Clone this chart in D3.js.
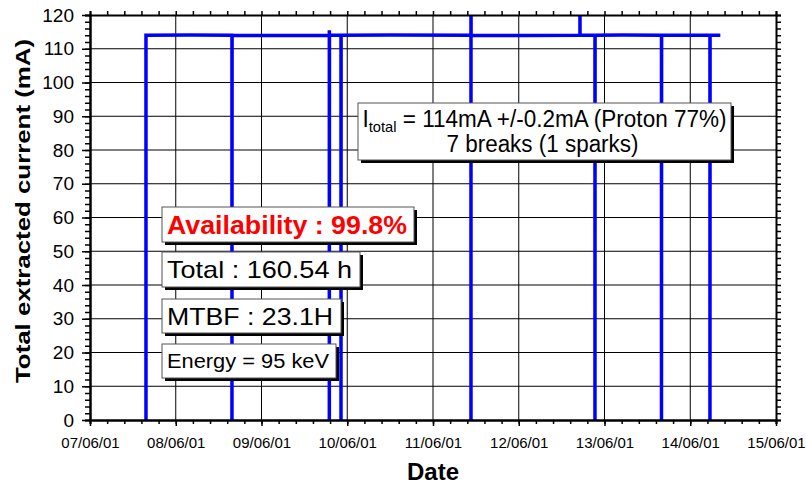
<!DOCTYPE html>
<html>
<head>
<meta charset="utf-8">
<script src="https://cdn.jsdelivr.net/npm/d3@7"></script>
<style>
  body { margin: 0; background: #fff; }
  text { font-family: Arial, "Liberation Sans", sans-serif; }
</style>
</head>
<body>
<svg id="chart" width="806" height="488"></svg>
<script>
const parse = d3.timeParse("%d/%m/%y %H:%M");

// axis labels
const dayLabels = ["07/06/01", "08/06/01", "09/06/01", "10/06/01", "11/06/01",
                   "12/06/01", "13/06/01", "14/06/01", "15/06/01"];
const yTicks = [0, 10, 20, 30, 40, 50, 60, 70, 80, 90, 100, 110, 120];

// extracted current trace (date, mA)
const traceTimes = [
  "07/06/01 15:40", "07/06/01 15:40", "08/06/01 04:00", "08/06/01 15:44", "08/06/01 15:44", "08/06/01 15:46",
  "09/06/01 03:00", "09/06/01 18:59", "09/06/01 18:59", "09/06/01 18:59", "09/06/01 19:01",
  "09/06/01 22:15", "09/06/01 22:15", "09/06/01 22:17",
  "10/06/01 12:00", "11/06/01 10:38", "11/06/01 10:38", "11/06/01 10:38", "11/06/01 10:40",
  "12/06/01 02:00", "12/06/01 17:08", "12/06/01 17:08", "12/06/01 17:09",
  "12/06/01 21:20", "12/06/01 21:20", "12/06/01 21:22",
  "13/06/01 05:00", "13/06/01 15:57", "13/06/01 15:57", "13/06/01 15:59",
  "14/06/01 05:31", "14/06/01 05:31", "14/06/01 05:33", "14/06/01 08:25"
];
const traceValues = [
  0, 114, 114.1, 114, 0, 114,
  113.9, 114, 115.5, 0, 114,
  114, 0, 114,
  114.1, 114, 0, 126, 114,
  113.9, 114, 126, 114,
  114, 0, 114,
  114.1, 114, 0, 114,
  114, 0, 114, 114
];

// annotation boxes
const statsBox = {x: 358, y: 103, w: 373, h: 57};
const infoBoxes = [
  {label: "Availability : 99.8%", x: 162, y: 207, w: 252, h: 35, size: 25, bold: true, color: "#ff0000", len: 240},
  {label: "Total : 160.54 h", x: 162, y: 252, w: 198, h: 35, size: 24, bold: false, color: "#000", len: 185},
  {label: "MTBF : 23.1H", x: 162, y: 299, w: 179, h: 34, size: 24, bold: false, color: "#000", len: 166},
  {label: "Energy = 95 keV", x: 162, y: 344, w: 174, h: 34, size: 20, bold: false, color: "#000", len: 162}
];

const svg = d3.select("#chart");
const plotL = 90, plotR = 776, plotT = 15, plotB = 420;

const t0 = parse(dayLabels[0] + " 00:00");
const t1 = parse(dayLabels[dayLabels.length - 1] + " 00:00");
const x = d3.scaleTime().domain([t0, t1]).range([plotL, plotR]);
const y = d3.scaleLinear().domain([0, 120]).range([plotB, plotT]);

const days = dayLabels.map(d => parse(d + " 00:00"));
// 5 minor divisions per day
const minorX = d3.range(0, (days.length - 1) * 5 + 1).map(i => new Date(+t0 + i * 288 * 60000));
const minorY = d3.range(0, 121, 2);

// grid
const grid = svg.append("g");
grid.selectAll("line.h").data(yTicks.slice(1, -1)).enter().append("line")
  .attr("x1", plotL).attr("x2", plotR)
  .attr("y1", d => y(d)).attr("y2", d => y(d))
  .attr("stroke", "#000").attr("stroke-width", 1);
grid.selectAll("line.v").data(days.slice(1, -1)).enter().append("line")
  .attr("y1", plotT).attr("y2", plotB)
  .attr("x1", d => x(d)).attr("x2", d => x(d))
  .attr("stroke", "#000").attr("stroke-width", 1);

// trace
svg.append("clipPath").attr("id", "plot")
  .append("rect").attr("x", plotL).attr("y", plotT).attr("width", plotR - plotL).attr("height", plotB - plotT);

const trace = traceTimes.map((t, i) => [parse(t), traceValues[i]]);
const line = d3.line().x(d => x(d[0])).y(d => y(d[1]));
svg.append("path")
  .datum(trace)
  .attr("clip-path", "url(#plot)")
  .attr("d", line)
  .attr("fill", "none")
  .attr("stroke", "#0000ff")
  .attr("stroke-width", 3.5)
  .attr("stroke-linejoin", "miter");

// axes
function styleAxis(g) {
  g.select(".domain").attr("stroke-width", 2);
  g.selectAll(".tick line").attr("stroke-width", 1.5);
}
const fmt = d3.timeFormat("%d/%m/%y");

svg.append("g").attr("transform", `translate(0,${plotB})`)
  .call(d3.axisBottom(x).tickValues(minorX).tickSize(4).tickFormat(""))
  .call(styleAxis);
svg.append("g").attr("transform", `translate(0,${plotB})`)
  .call(d3.axisBottom(x).tickValues(days).tickSize(6).tickSizeOuter(0).tickPadding(11).tickFormat(fmt))
  .call(styleAxis)
  .call(g => g.selectAll("text").attr("font-size", 15).attr("fill", "#000").attr("font-family", "Arial, 'Liberation Sans', sans-serif"));

svg.append("g").attr("transform", `translate(0,${plotT})`)
  .call(d3.axisTop(x).tickValues(minorX).tickSize(4).tickFormat(""))
  .call(styleAxis);

svg.append("g").attr("transform", `translate(${plotL},0)`)
  .call(d3.axisLeft(y).tickValues(minorY).tickSize(5).tickFormat(""))
  .call(styleAxis);
svg.append("g").attr("transform", `translate(${plotL},0)`)
  .call(d3.axisLeft(y).tickValues(yTicks).tickSize(8).tickSizeOuter(0).tickPadding(8))
  .call(styleAxis)
  .call(g => g.selectAll("text").attr("font-size", 19).attr("fill", "#000").attr("font-family", "Arial, 'Liberation Sans', sans-serif"));

svg.append("g").attr("transform", `translate(${plotR},0)`)
  .call(d3.axisRight(y).tickValues(minorY).tickSize(5).tickFormat(""))
  .call(styleAxis);

// axis titles
svg.append("text")
  .attr("transform", "translate(30,211) rotate(-90)")
  .attr("text-anchor", "middle")
  .attr("font-size", 21).attr("font-weight", "bold")
  .attr("textLength", 344).attr("lengthAdjust", "spacingAndGlyphs")
  .text("Total extracted current (mA)");
svg.append("text")
  .attr("x", 433).attr("y", 480)
  .attr("text-anchor", "middle")
  .attr("font-size", 24).attr("font-weight", "bold")
  .text("Date");

// boxes
function drawBox(b) {
  const g = svg.append("g");
  g.append("rect").attr("x", b.x + 3).attr("y", b.y + 3).attr("width", b.w).attr("height", b.h).attr("fill", "#000");
  g.append("rect").attr("x", b.x).attr("y", b.y).attr("width", b.w).attr("height", b.h)
    .attr("fill", "#fff").attr("stroke", "#555").attr("stroke-width", 1);
  return g;
}

const sg = drawBox(statsBox);
const l1 = sg.append("text")
  .attr("x", statsBox.x + statsBox.w / 2).attr("y", 127)
  .attr("text-anchor", "middle").attr("font-size", 23)
  .attr("textLength", 364).attr("lengthAdjust", "spacingAndGlyphs");
l1.append("tspan").text("I");
l1.append("tspan").attr("font-size", 15).attr("dy", 5).text("total");
l1.append("tspan").attr("dy", -5).text(" = 114mA +/-0.2mA (Proton 77%)");
sg.append("text")
  .attr("x", statsBox.x + statsBox.w / 2 - 2).attr("y", 152)
  .attr("text-anchor", "middle").attr("font-size", 23)
  .attr("textLength", 192).attr("lengthAdjust", "spacingAndGlyphs")
  .text("7 breaks (1 sparks)");

infoBoxes.forEach(b => {
  const g = drawBox(b);
  g.append("text")
    .attr("x", b.x + 5).attr("y", b.y + b.h / 2 + b.size * 0.36)
    .attr("font-size", b.size)
    .attr("font-weight", b.bold ? "bold" : "normal")
    .attr("fill", b.color)
    .attr("textLength", b.len).attr("lengthAdjust", "spacingAndGlyphs")
    .text(b.label);
});
</script>
</body>
</html>
